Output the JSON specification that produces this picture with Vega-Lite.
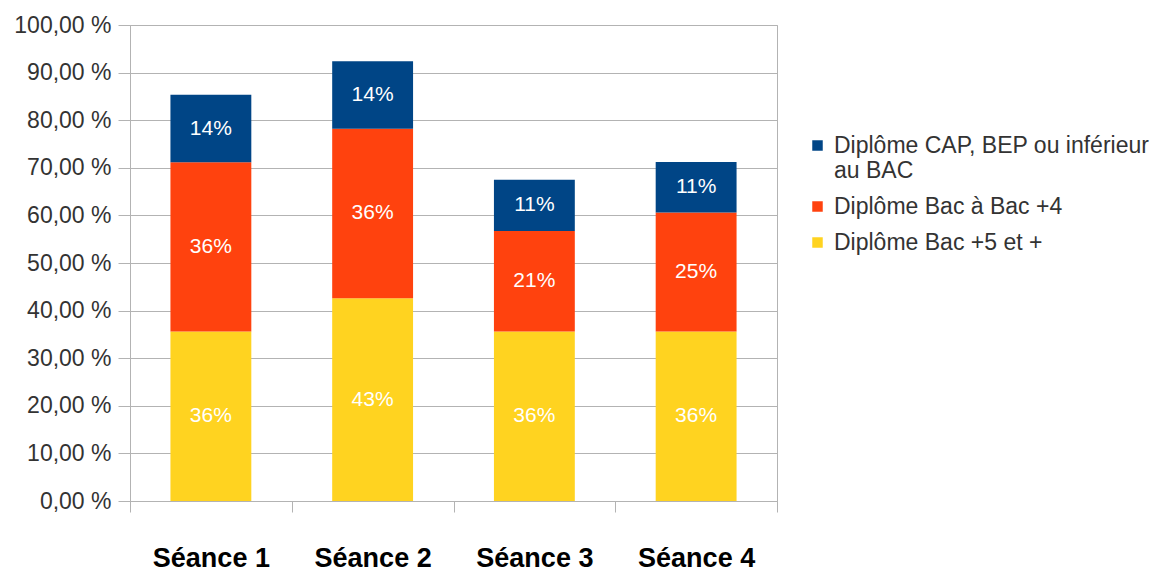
{
  "$schema": "https://vega.github.io/schema/vega-lite/v6.json",
  "width": 647,
  "height": 476,
  "autosize": {"type": "none"},
  "padding": {"left": 130, "top": 25, "right": 389, "bottom": 71},
  "background": "white",
  "config": {
    "font": "Liberation Sans",
    "view": {"stroke": "#b3b3b3", "strokeWidth": 1}
  },
  "data": {
    "values": [
      {"seance": "Séance 1", "diplome": "Diplôme Bac +5 et +", "value": 0.356},
      {"seance": "Séance 1", "diplome": "Diplôme Bac à Bac +4", "value": 0.3555},
      {"seance": "Séance 1", "diplome": "Diplôme CAP, BEP ou inférieur au BAC", "value": 0.142},
      {"seance": "Séance 2", "diplome": "Diplôme Bac +5 et +", "value": 0.426},
      {"seance": "Séance 2", "diplome": "Diplôme Bac à Bac +4", "value": 0.356},
      {"seance": "Séance 2", "diplome": "Diplôme CAP, BEP ou inférieur au BAC", "value": 0.142},
      {"seance": "Séance 3", "diplome": "Diplôme Bac +5 et +", "value": 0.356},
      {"seance": "Séance 3", "diplome": "Diplôme Bac à Bac +4", "value": 0.211},
      {"seance": "Séance 3", "diplome": "Diplôme CAP, BEP ou inférieur au BAC", "value": 0.108},
      {"seance": "Séance 4", "diplome": "Diplôme Bac +5 et +", "value": 0.356},
      {"seance": "Séance 4", "diplome": "Diplôme Bac à Bac +4", "value": 0.25},
      {"seance": "Séance 4", "diplome": "Diplôme CAP, BEP ou inférieur au BAC", "value": 0.106}
    ]
  },
  "encoding": {
    "x": {
      "field": "seance",
      "type": "nominal",
      "scale": {"paddingInner": 0, "paddingOuter": 0},
      "axis": {
        "title": null,
        "labelAngle": 0,
        "labelFont": "Liberation Sans",
        "labelFontSize": 27,
        "labelFontWeight": "bold",
        "labelColor": "#000000",
        "labelPadding": 33,
        "labelBaseline": "top",
        "tickBand": "extent",
        "tickSize": 11,
        "tickColor": "#b3b3b3",
        "domainColor": "#b3b3b3",
        "grid": false
      }
    },
    "y": {
      "field": "value",
      "type": "quantitative",
      "stack": "zero",
      "scale": {"domain": [0, 1], "nice": false},
      "axis": {
        "title": null,
        "values": [0, 0.1, 0.2, 0.3, 0.4, 0.5, 0.6, 0.7, 0.8, 0.9, 1],
        "labelExpr": "replace(format(datum.value * 100, '.2f'), '.', ',') + ' %'",
        "labelFont": "Liberation Sans",
        "labelFontSize": 23,
        "labelColor": "#333333",
        "labelPadding": 7,
        "tickSize": 12,
        "tickColor": "#b3b3b3",
        "domainColor": "#b3b3b3",
        "gridColor": "#b3b3b3",
        "grid": true
      }
    },
    "order": {"field": "diplome", "sort": "ascending"}
  },
  "layer": [
    {
      "mark": {"type": "bar", "width": {"band": 0.5}},
      "encoding": {
        "color": {
          "field": "diplome",
          "type": "nominal",
          "scale": {
            "domain": ["Diplôme CAP, BEP ou inférieur au BAC", "Diplôme Bac à Bac +4", "Diplôme Bac +5 et +"],
            "range": ["#004586", "#ff420e", "#ffd320"]
          },
          "legend": {
            "title": null,
            "orient": "none",
            "legendX": 676,
            "legendY": 109,
            "symbolType": "square",
            "symbolSize": 110,
            "symbolStrokeWidth": 0,
            "symbolOpacity": 1,
            "labelFont": "Liberation Sans",
            "labelFontSize": 23,
            "labelColor": "#333333",
            "labelLimit": 400,
            "labelOffset": 5,
            "rowPadding": 12,
            "labelExpr": "datum.label == 'Diplôme CAP, BEP ou inférieur au BAC' ? ['Diplôme CAP, BEP ou inférieur', 'au BAC'] : datum.label"
          }
        }
      }
    },
    {
      "mark": {"type": "text", "color": "white", "font": "Liberation Sans", "fontSize": 21, "baseline": "middle"},
      "encoding": {
        "y": {"field": "value", "type": "quantitative", "stack": "zero", "bandPosition": 0.5},
        "text": {"field": "value", "type": "quantitative", "format": ".0%"}
      }
    }
  ]
}
